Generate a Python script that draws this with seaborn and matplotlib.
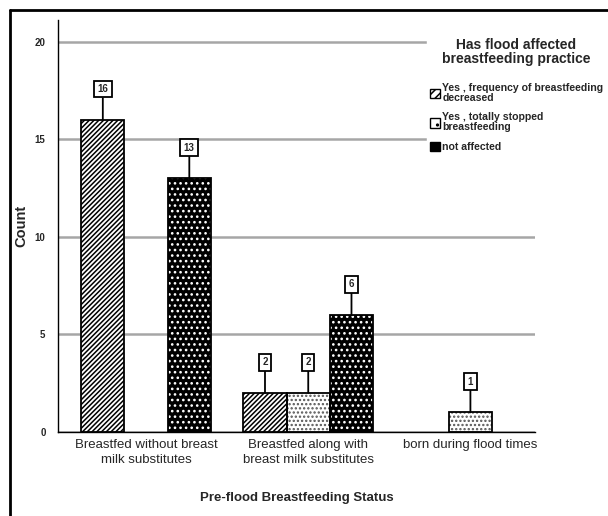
import matplotlib
matplotlib.use("Agg")
import matplotlib.pyplot as plt
import matplotlib.patches as mpatches
import matplotlib.lines as mlines
import pandas as pd
import seaborn as sns

# ---- data ----
statuses = ["Breastfed without breast\nmilk substitutes",
            "Breastfed along with\nbreast milk substitutes",
            "born during flood times"]
effects = ["Yes , frequency of breastfeeding\ndecreased",
           "Yes , totally stopped\nbreastfeeding",
           "not affected"]
bar_status = [statuses[0], statuses[0], statuses[1], statuses[1], statuses[1], statuses[2]]
bar_effect = [effects[0], effects[2], effects[0], effects[1], effects[2], effects[1]]
bar_count = [16, 13, 2, 2, 6, 1]
y_ticks = [0, 5, 10, 15, 20]

# face colour, hatch colour, hatch
hatch_styles = {effects[0]: ("white", "black", "///////"),
                effects[1]: ("white", "#555555", "...."),
                effects[2]: ("black", "white", "...")}
legend_hatch = {effects[0]: "////", effects[1]: "..", effects[2]: ".."}

sns.set_style("white")
plt.rcParams["font.family"] = ["Liberation Sans", "DejaVu Sans"]
plt.rcParams["hatch.linewidth"] = 1.1

df = pd.DataFrame({"status": bar_status, "effect": bar_effect, "count": bar_count})

fig = plt.figure(figsize=(6.08, 5.16), dpi=100)
ax = fig.add_axes([0.0954, 0.163, 0.785, 0.798])

sns.barplot(data=df, x="status", y="count", hue="effect", order=statuses,
            hue_order=effects, dodge=True, width=0.8, legend=False, ax=ax,
            palette=["white"] * 3, saturation=1)

# style bars by hue (containers are in hue order)
for eff, cont in zip(effects, ax.containers):
    face, hcol, hatch = hatch_styles[eff]
    for bar in cont:
        h = bar.get_height()
        if h != h or h == 0:
            continue
        bar.set_facecolor(face)
        bar.set_edgecolor(hcol)
        bar.set_hatch(hatch)
        bar.set_linewidth(0)
        outline = mpatches.Rectangle(bar.get_xy(), bar.get_width(), h,
                                     fill=False, edgecolor="black", linewidth=1.3, zorder=3)
        ax.add_patch(outline)
        ax.annotate(f"{int(h)}",
                    xy=(bar.get_x() + bar.get_width() / 2, h),
                    xytext=(0, 22), textcoords="offset points", ha="center", va="center",
                    fontsize=7, fontweight="bold",
                    bbox=dict(boxstyle="square,pad=0.35", fc="white", ec="black", lw=1.3),
                    arrowprops=dict(arrowstyle="-", color="black", lw=1.3,
                                    shrinkA=0, shrinkB=0), zorder=4)

ax.set_xlim(-0.543, 2.40)
ax.set_ylim(0, 21.1)
ax.set_yticks(y_ticks)
ax.set_yticklabels([str(t) for t in y_ticks], fontsize=7, fontweight="bold")
ax.tick_params(axis="both", length=0)
ax.tick_params(axis="y", pad=9)
ax.tick_params(axis="x", pad=5, labelsize=9.5)
for lbl in ax.get_xticklabels():
    lbl.set_linespacing(1.3)
ax.yaxis.grid(True, color="#a6a6a6", linewidth=1.8)
ax.set_axisbelow(True)
for side in ["top", "right"]:
    ax.spines[side].set_visible(False)
for side in ["left", "bottom"]:
    ax.spines[side].set_color("black")
    ax.spines[side].set_linewidth(1.0)

ax.set_ylabel("Count", fontsize=10.5, fontweight="bold")
ax.yaxis.set_label_coords(-0.062, 0.5)
ax.set_xlabel("Pre-flood Breastfeeding Status", fontsize=9.5, fontweight="bold")
ax.xaxis.set_label_coords(0.5, -0.145)

handles = []
for eff in effects:
    face, hcol, _ = hatch_styles[eff]
    handles.append(mpatches.Patch(facecolor=face, edgecolor=hcol,
                                  hatch=legend_hatch[eff], linewidth=0))
leg = fig.legend(handles, effects, title="Has flood affected\nbreastfeeding practice",
                 loc="upper left", bbox_to_anchor=(0.703, 0.93), frameon=True,
                 fancybox=False, edgecolor="white", facecolor="white", framealpha=1,
                 handlelength=1.0, handleheight=1.0, handletextpad=0.2,
                 labelspacing=0.9, borderpad=0.2, borderaxespad=0,
                 prop={"size": 7.6, "weight": "bold"})
leg.get_title().set_fontweight("bold")
leg.get_title().set_fontsize(10)
leg.get_title().set_multialignment("center")
leg.get_title().set_linespacing(1.0)
leg._legend_box.align = "center"
leg._legend_box.sep = 12
for t in leg.get_texts():
    t.set_linespacing(1.0)
for h in leg.legend_handles:
    h.set_edgecolor("black")
    h.set_linewidth(1.0)

# outer frame: top and left edges only
fig.add_artist(mlines.Line2D([10 / 608, 10 / 608], [0, 1 - 10 / 516],
                             transform=fig.transFigure, color="black", linewidth=2.0))
fig.add_artist(mlines.Line2D([10 / 608, 1], [1 - 10 / 516, 1 - 10 / 516],
                             transform=fig.transFigure, color="black", linewidth=2.0))

fig.savefig("out.png", dpi=100, facecolor="white")
